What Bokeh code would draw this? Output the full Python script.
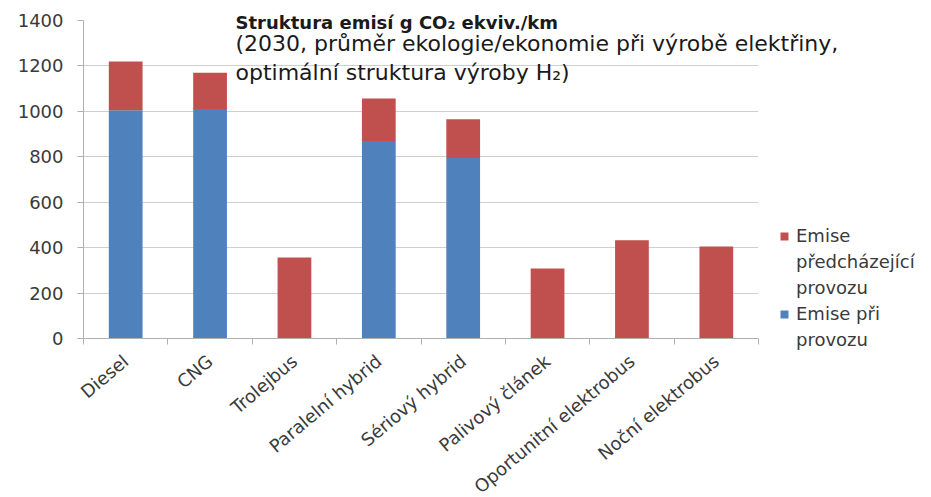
from bokeh.plotting import figure
from bokeh.models import (ColumnDataSource, FixedTicker, Legend, LegendItem, Title, Range1d)
from bokeh.embed import file_html
from bokeh.resources import INLINE

categories = ["Diesel", "CNG", "Trolejbus", "Paralelní hybrid", "Sériový hybrid",
              "Palivový článek", "Oportunitní elektrobus", "Noční elektrobus"]
provoz = [1005, 1010, 0, 870, 795, 0, 0, 0]            # Emise při provozu
predchazejici = [215, 160, 357, 187, 170, 308, 432, 405]  # Emise předcházející provozu
y_ticks = [0, 200, 400, 600, 800, 1000, 1200, 1400]

title_1 = "Struktura emisí g CO₂ ekviv./km"
title_2 = "(2030, průměr ekologie/ekonomie  při výrobě elektřiny,"
title_3 = "optimální struktura výroby H₂)"

RED = "#C0504D"
BLUE = "#4F81BD"
FONT = "DejaVu Sans"
TXT = "#3a3a3a"

centers = [i + 0.5 for i in range(len(categories))]
src = ColumnDataSource(dict(x=centers, provoz=provoz, pred=predchazejici))

p = figure(frame_width=675, frame_height=318, output_backend="svg", toolbar_location=None,
           x_range=Range1d(0, len(categories)), y_range=Range1d(0, 1400),
           min_border_left=83, min_border_top=20, min_border_right=173, min_border_bottom=10)
p.outline_line_color = None

rs = p.vbar_stack(["provoz", "pred"], x="x", width=0.4, color=[BLUE, RED], source=src,
                  line_color=None)
r_blue, r_red = rs
r_blank = p.vbar(x=[], top=[], width=0.4, fill_alpha=0, line_alpha=0)

# axes
xa = p.xaxis[0]
xa.ticker = FixedTicker(ticks=centers, minor_ticks=list(range(len(categories) + 1)))
xa.major_label_overrides = {c: n for c, n in zip(centers, categories)}
xa.major_tick_line_color = None
xa.minor_tick_in = 0
xa.minor_tick_out = 6
xa.minor_tick_line_color = "#b0b0b0"
xa.axis_line_color = "#b0b0b0"
xa.major_label_orientation = 0.7
xa.major_label_text_font = FONT
xa.major_label_text_font_size = "18px"
xa.major_label_text_color = TXT
xa.major_label_standoff = 14

ya = p.yaxis[0]
ya.ticker = FixedTicker(ticks=y_ticks)
ya.minor_tick_line_color = None
ya.major_tick_in = 0
ya.major_tick_out = 6
ya.major_tick_line_color = "#b0b0b0"
ya.axis_line_color = "#b0b0b0"
ya.major_label_text_font = FONT
ya.major_label_text_font_size = "18px"
ya.major_label_text_color = TXT
ya.major_label_standoff = 14

p.xgrid.grid_line_color = None
p.ygrid.grid_line_color = "#cfcfcf"
p.ygrid.ticker = FixedTicker(ticks=y_ticks)

# chart title drawn over the plot area (titles are not clipped by the frame)
tA = Title(text=title_1, align="left", offset=152, standoff=-24,
           text_font=FONT, text_font_size="18px", text_font_style="bold",
           text_color="#1a1a1a")
tB = Title(text="\n\n\n" + title_2 + "\n" + title_3, align="left", offset=152, standoff=-129,
           text_font=FONT, text_font_size="22px", text_font_style="normal",
           text_line_height=1.18, text_color="#1a1a1a")
p.add_layout(tA, "above")
p.add_layout(tB, "above")

# legend
lg = Legend(items=[LegendItem(label="Emise", renderers=[r_red]),
                   LegendItem(label="předcházející", renderers=[r_blank]),
                   LegendItem(label="provozu", renderers=[r_blank]),
                   LegendItem(label="Emise při", renderers=[r_blue]),
                   LegendItem(label="provozu", renderers=[r_blank])],
            location=(21, -14), orientation="vertical")
lg.padding = 0
lg.margin = 0
lg.spacing = 1
lg.border_line_color = None
lg.background_fill_alpha = 0
lg.glyph_width = 10
lg.glyph_height = 10
lg.label_height = 25
lg.label_standoff = 7
lg.label_text_font = FONT
lg.label_text_font_size = "18px"
lg.label_text_color = TXT
lg.label_text_baseline = "middle"
p.add_layout(lg, "right")

open("out.html", "w").write(file_html(p, INLINE))
